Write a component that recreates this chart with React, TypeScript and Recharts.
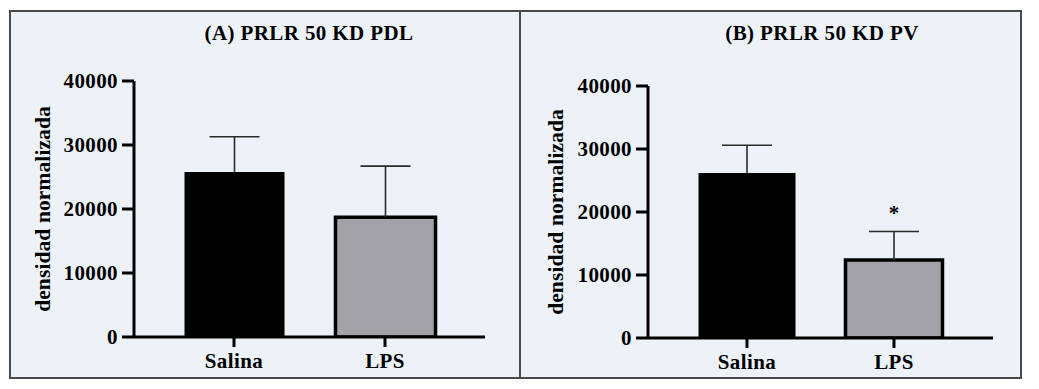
import React from 'react';
import { ComposedChart, Bar, XAxis, YAxis, Cell, LabelList } from 'recharts';

const categories = ['Salina', 'LPS'];
const meanA = [25800, 18700];
const semA = [5500, 8000];
const meanB = [26200, 12400];
const semB = [4400, 4500];
const sigB = ['', '*'];
const sigA = ['', ''];
const yTicks = [0, 10000, 20000, 30000, 40000];
const titles = ['(A) PRLR 50 KD PDL', '(B) PRLR 50 KD PV'];
const yLabel = 'densidad normalizada';
const fills = ['#000000', '#a3a2a7'];

const FONT = '"Liberation Serif", "Times New Roman", serif';
const BG = '#edf2f9';

const build = (means: number[], sems: number[], sig: string[]) =>
  categories.map((c, i) => ({
    name: c,
    value: means[i],
    sem: sems[i],
    sig: sig[i],
  }));

const tickStyle = { fontFamily: FONT, fontWeight: 700, fontSize: 21, fill: '#000', letterSpacing: 0.4 };

// Error whisker drawn from the stacked segment the library positions
const Whisker = (p: any) => {
  const { x, y, width, height } = p;
  if (x == null || y == null) return null;
  const cx = x + width / 2;
  return (
    <g stroke="#2a2a2a" strokeWidth={1.6}>
      <line x1={cx} y1={y + height} x2={cx} y2={y} />
      <line x1={cx - 25} y1={y} x2={cx + 25} y2={y} />
    </g>
  );
};

function Panel(props: {
  data: any[];
  width: number;
  yAxisWidth: number;
  top: number;
  right: number;
  padding: number;
  barSize: number;
  labelDx: number;
}) {
  const { data, width, yAxisWidth, top, right, padding, barSize, labelDx } = props;
  return (
    <ComposedChart width={width} height={389} data={data} margin={{ top, right, bottom: 12, left: 0 }}>
      <XAxis
        dataKey="name"
        height={40}
        padding={{ left: padding, right: padding }}
        axisLine={{ stroke: '#000', strokeWidth: 3 }}
        tickLine={{ stroke: '#000', strokeWidth: 3 }}
        tickSize={10}
        tickMargin={6}
        tick={tickStyle}
        interval={0}
      />
      <YAxis
        width={yAxisWidth}
        domain={[0, 40000]}
        ticks={yTicks}
        allowDataOverflow
        axisLine={{ stroke: '#000', strokeWidth: 3 }}
        tickLine={{ stroke: '#000', strokeWidth: 3 }}
        tickSize={12}
        tickMargin={4}
        tick={tickStyle}
        label={{
          value: yLabel,
          angle: -90,
          position: 'center',
          dx: labelDx,
          style: { fontFamily: FONT, fontWeight: 700, fontSize: 21.5, fill: '#000', letterSpacing: 0.1 },
        }}
      />
      <Bar dataKey="value" stackId="s" barSize={barSize} isAnimationActive={false}>
        {data.map((d, i) => (
          <Cell key={d.name} fill={fills[i]} stroke="#000" strokeWidth={i === 0 ? 0 : 3.5} />
        ))}
      </Bar>
      <Bar dataKey="sem" stackId="s" barSize={barSize} shape={<Whisker />} isAnimationActive={false}>
        <LabelList
          dataKey="sig"
          position="top"
          offset={12}
          style={{ fontFamily: FONT, fontWeight: 700, fontSize: 21, fill: '#000' }}
        />
      </Bar>
    </ComposedChart>
  );
}

export default function App() {
  const dataA = build(meanA, semA, sigA);
  const dataB = build(meanB, semB, sigB);
  const titleStyle: React.CSSProperties = {
    position: 'absolute',
    top: 20,
    width: 400,
    textAlign: 'center',
    fontFamily: FONT,
    fontWeight: 700,
    fontSize: 21,
    letterSpacing: 0.4,
    lineHeight: '26px',
    color: '#000',
  };
  return (
    <div style={{ position: 'absolute', left: 0, top: 0, width: 1039, height: 389, background: '#fff', overflow: 'hidden' }}>
      <div
        style={{
          position: 'absolute',
          left: 9,
          top: 10,
          width: 1013,
          height: 369,
          background: BG,
          border: '2px solid #4a4a4a',
          boxSizing: 'border-box',
        }}
      />
      <div style={{ position: 'absolute', left: 519, top: 10, width: 2, height: 369, background: '#4a4a4a' }} />
      <div style={{ ...titleStyle, left: 309 - 200 }}>{titles[0]}</div>
      <div style={{ ...titleStyle, left: 822 - 200 }}>{titles[1]}</div>
      <div style={{ position: 'absolute', left: 0, top: 0 }}>
        <Panel data={dataA} width={520} yAxisWidth={134} top={81} right={35} padding={24.5} barSize={100} labelDx={-25} />
      </div>
      <div style={{ position: 'absolute', left: 520, top: 1 }}>
        <Panel data={dataB} width={519} yAxisWidth={128} top={85} right={46} padding={25.5} barSize={97} labelDx={-29} />
      </div>
    </div>
  );
}
